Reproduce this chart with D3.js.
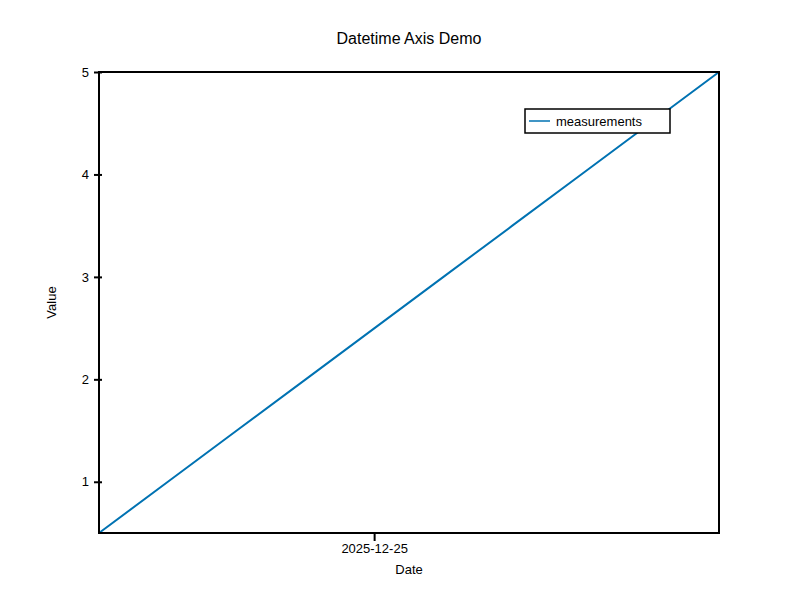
<!DOCTYPE html>
<html>
<head>
<meta charset="utf-8">
<script src="https://cdn.jsdelivr.net/npm/d3@7"></script>
<style>
  body { margin: 0; background: #fff; }
  text { font-family: "Liberation Sans", Arial, sans-serif; fill: #000; }
</style>
</head>
<body>
<div id="chart"></div>
<script>
const times = [
    "2025-12-24T13:21:00", "2025-12-24T16:01:00", "2025-12-24T18:41:00",
    "2025-12-24T21:21:00", "2025-12-25T00:01:00", "2025-12-25T02:41:00",
    "2025-12-25T05:21:00", "2025-12-25T08:01:00", "2025-12-25T10:41:00",
    "2025-12-25T13:21:00"
];
const values = [0.5, 1.0, 1.5, 2.0, 2.5, 3.0, 3.5, 4.0, 4.5, 5.0];
const xTickDates = ["2025-12-25T00:00:00"];
const yTicks = [1, 2, 3, 4, 5];
const seriesName = "measurements";

const width = 800, height = 600;
const margin = {top: 72, right: 81, bottom: 67, left: 99};
const parse = d3.isoParse;

const data = times.map((t, i) => ({date: new Date(t), value: values[i]}));

const x = d3.scaleTime()
    .domain(d3.extent(data, d => d.date))
    .range([margin.left, width - margin.right]);
const y = d3.scaleLinear()
    .domain(d3.extent(data, d => d.value))
    .range([height - margin.bottom, margin.top]);

const svg = d3.select("#chart").append("svg")
    .attr("width", width)
    .attr("height", height)
    .attr("viewBox", [0, 0, width, height]);

// axes
svg.append("g")
    .attr("transform", `translate(0, ${height - margin.bottom})`)
    .call(d3.axisBottom(x)
        .tickValues(xTickDates.map(s => new Date(s)))
        .tickFormat(d3.timeFormat("%Y-%m-%d"))
        .tickSizeInner(8).tickSizeOuter(0).tickPadding(3))
    .call(g => g.select(".domain").remove())
    .call(g => g.selectAll(".tick line").attr("stroke-width", 2).attr("y1", -1))
    .call(g => g.selectAll(".tick text").style("font-size", "13px"));

svg.append("g")
    .attr("transform", `translate(${margin.left}, 0)`)
    .call(d3.axisLeft(y)
        .tickValues(yTicks)
        .tickFormat(d3.format("d"))
        .tickSizeInner(5).tickSizeOuter(0).tickPadding(5))
    .call(g => g.select(".domain").remove())
    .call(g => g.selectAll(".tick line").attr("stroke-width", 2).attr("x2", -5).attr("x1", 3))
    .call(g => g.selectAll(".tick text").style("font-size", "13px"));

// line
svg.append("path")
    .datum(data)
    .attr("fill", "none")
    .attr("stroke", "#0072b2")
    .attr("stroke-width", 2)
    .attr("d", d3.line().x(d => x(d.date)).y(d => y(d.value)));

// frame
svg.append("rect")
    .attr("x", margin.left)
    .attr("y", margin.top)
    .attr("width", width - margin.left - margin.right)
    .attr("height", height - margin.top - margin.bottom)
    .attr("fill", "none")
    .attr("stroke", "#000")
    .attr("stroke-width", 2);

// titles
svg.append("text")
    .attr("x", (margin.left + width - margin.right) / 2)
    .attr("y", 44)
    .attr("text-anchor", "middle")
    .style("font-size", "16px")
    .text("Datetime Axis Demo");

svg.append("text")
    .attr("x", (margin.left + width - margin.right) / 2)
    .attr("y", 574)
    .attr("text-anchor", "middle")
    .style("font-size", "13px")
    .text("Date");

svg.append("text")
    .attr("transform", `translate(56, ${(margin.top + height - margin.bottom) / 2}) rotate(-90)`)
    .attr("text-anchor", "middle")
    .style("font-size", "13px")
    .text("Value");

// legend
const legend = svg.append("g").attr("transform", "translate(525, 109)");
legend.append("rect")
    .attr("width", 145)
    .attr("height", 24)
    .attr("fill", "#fff")
    .attr("stroke", "#000")
    .attr("stroke-width", 1.5);
legend.append("line")
    .attr("x1", 4).attr("x2", 25)
    .attr("y1", 12).attr("y2", 12)
    .attr("stroke", "#0072b2")
    .attr("stroke-width", 1.5);
legend.append("text")
    .attr("x", 31)
    .attr("y", 17)
    .style("font-size", "13px")
    .text(seriesName);
</script>
</body>
</html>
